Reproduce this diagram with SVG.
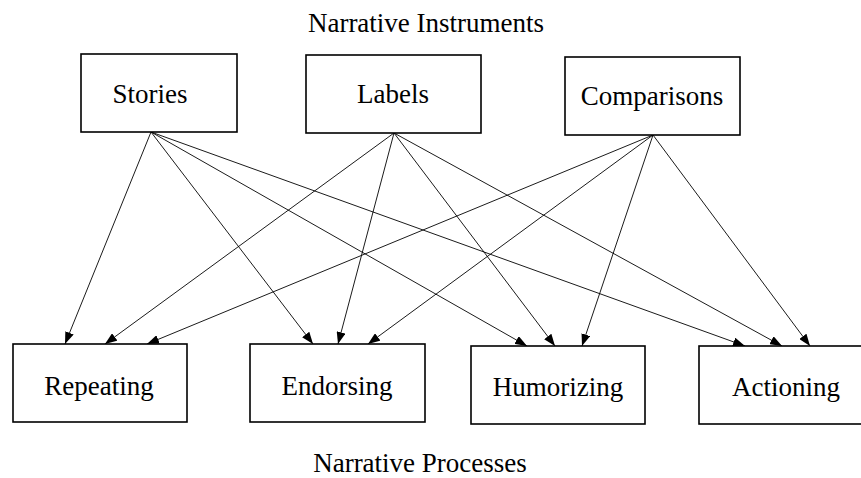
<svg xmlns="http://www.w3.org/2000/svg" width="861" height="478" viewBox="0 0 861 478">
<style>
.box{fill:#fff;stroke:#000;stroke-width:1.6}
.t{font-family:'Liberation Serif','Times New Roman',serif;font-size:27px;fill:#000;text-anchor:middle}
.e{stroke:#000;stroke-width:0.9;fill:none;marker-end:url(#ah)}
</style>
<defs>
<marker id="ah" markerUnits="userSpaceOnUse" markerWidth="12" markerHeight="9" refX="12" refY="4.5" orient="auto">
<path d="M0,0 L12,4.5 L0,9 z" fill="#000"/>
</marker>
</defs>
<rect width="861" height="478" fill="#fff"/>
<text class="t" x="426" y="32">Narrative Instruments</text>
<text class="t" x="420" y="472">Narrative Processes</text>
<g id="connectors">
<line class="e" x1="151" y1="132" x2="65" y2="344"/>
<line class="e" x1="151" y1="132" x2="313" y2="344"/>
<line class="e" x1="151" y1="132" x2="527" y2="346"/>
<line class="e" x1="151" y1="132" x2="745" y2="346"/>
<line class="e" x1="394" y1="133" x2="105" y2="344"/>
<line class="e" x1="394" y1="133" x2="338" y2="344"/>
<line class="e" x1="394" y1="133" x2="555" y2="346"/>
<line class="e" x1="394" y1="133" x2="782" y2="346"/>
<line class="e" x1="653" y1="135" x2="147" y2="344"/>
<line class="e" x1="653" y1="135" x2="368" y2="344"/>
<line class="e" x1="653" y1="135" x2="582" y2="346"/>
<line class="e" x1="653" y1="135" x2="810" y2="346"/>
</g>
<g id="stories"><rect class="box" x="81" y="54" width="156" height="78"/><text class="t" x="150" y="103">Stories</text></g>
<g id="labels"><rect class="box" x="306" y="55" width="175" height="78"/><text class="t" x="393" y="103">Labels</text></g>
<g id="comparisons"><rect class="box" x="565" y="57" width="175" height="78"/><text class="t" x="652" y="105">Comparisons</text></g>
<g id="repeating"><rect class="box" x="13" y="344" width="174" height="78"/><text class="t" x="99" y="395">Repeating</text></g>
<g id="endorsing"><rect class="box" x="250" y="344" width="175" height="78"/><text class="t" x="337" y="395">Endorsing</text></g>
<g id="humorizing"><rect class="box" x="471" y="346" width="174" height="78"/><text class="t" x="558" y="396">Humorizing</text></g>
<g id="actioning"><rect class="box" x="699" y="346" width="174" height="78"/><text class="t" x="786" y="396">Actioning</text></g>
</svg>
